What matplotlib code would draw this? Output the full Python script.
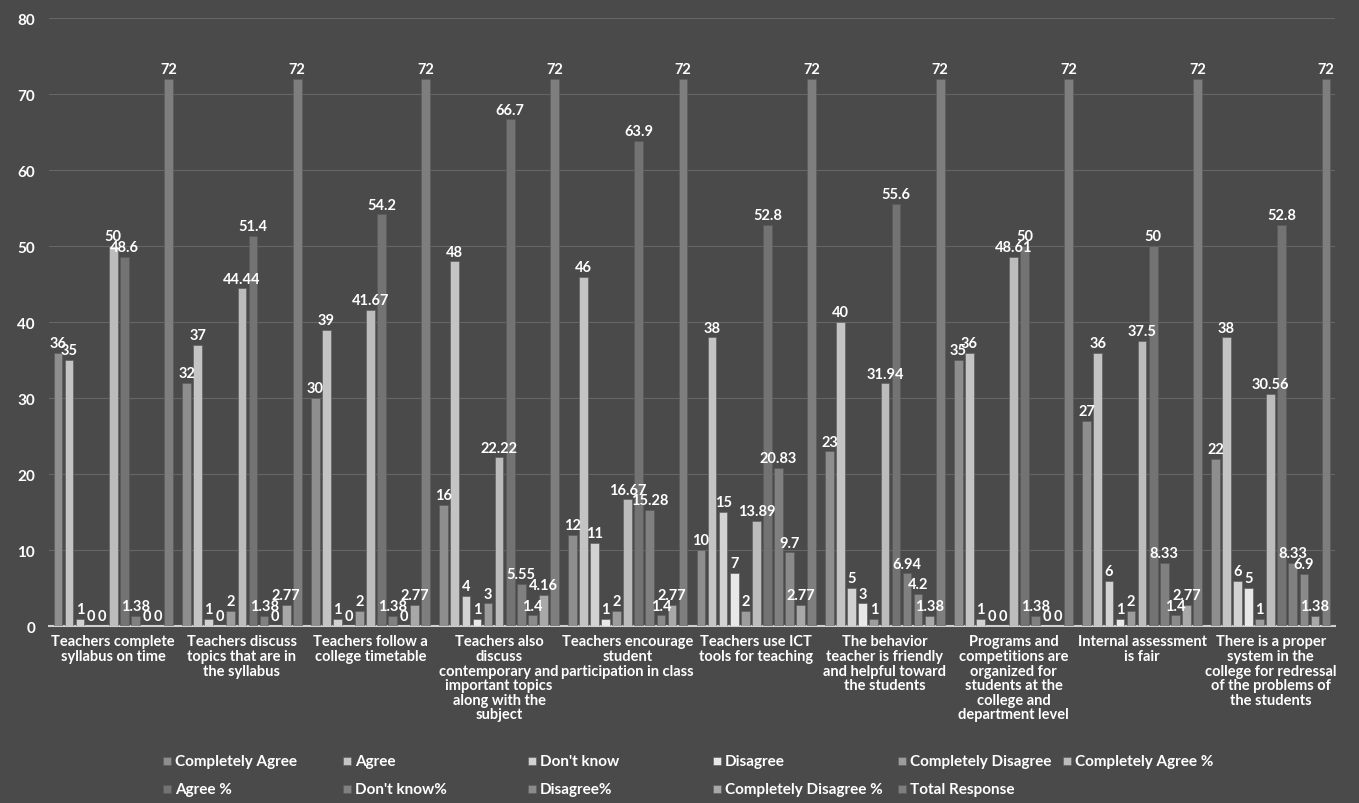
import matplotlib
matplotlib.use("Agg")
import matplotlib.pyplot as plt
from matplotlib.patches import Rectangle
import numpy as np

plt.rcParams['font.family'] = ['Lato', 'DejaVu Sans']

categories = [
    "Teachers complete\nsyllabus on time",
    "Teachers discuss\ntopics that are in\nthe syllabus",
    "Teachers follow a\ncollege timetable",
    "Teachers also\ndiscuss\ncontemporary and\nimportant topics\nalong with the\nsubject",
    "Teachers encourage\nstudent\nparticipation in class",
    "Teachers use ICT\ntools for teaching",
    "The behavior\nteacher is friendly\nand helpful toward\nthe students",
    "Programs and\ncompetitions are\norganized for\nstudents at the\ncollege and\ndepartment level",
    "Internal assessment\nis fair",
    "There is a proper\nsystem in the\ncollege for redressal\nof the problems of\nthe students",
]

completely_agree = [36, 32, 30, 16, 12, 10, 23, 35, 27, 22]
agree = [35, 37, 39, 48, 46, 38, 40, 36, 36, 38]
dont_know = [1, 1, 1, 4, 11, 15, 5, 1, 6, 6]
disagree = [0, 0, 0, 1, 1, 7, 3, 0, 1, 5]
completely_disagree = [0, 2, 2, 3, 2, 2, 1, 0, 2, 1]
completely_agree_pct = [50, 44.44, 41.67, 22.22, 16.67, 13.89, 31.94, 48.61, 37.5, 30.56]
agree_pct = [48.6, 51.4, 54.2, 66.7, 63.9, 52.8, 55.6, 50, 50, 52.8]
dont_know_pct = [1.38, 1.38, 1.38, 5.55, 15.28, 20.83, 6.94, 1.38, 8.33, 8.33]
disagree_pct = [0, 0, 0, 1.4, 1.4, 9.7, 4.2, 0, 1.4, 6.9]
completely_disagree_pct = [0, 2.77, 2.77, 4.16, 2.77, 2.77, 1.38, 0, 2.77, 1.38]
total_response = [72, 72, 72, 72, 72, 72, 72, 72, 72, 72]

series_names = ["Completely Agree", "Agree", "Don't know", "Disagree", "Completely Disagree",
                "Completely Agree %", "Agree %", "Don't know%", "Disagree%",
                "Completely Disagree %", "Total Response"]
series_values = [completely_agree, agree, dont_know, disagree, completely_disagree,
                 completely_agree_pct, agree_pct, dont_know_pct, disagree_pct,
                 completely_disagree_pct, total_response]
colors = ["#8e8e8e", "#c4c4c4", "#d2d2d2", "#e8e8e8", "#9c9c9c",
          "#bcbcbc", "#737373", "#808080", "#8a8a8a", "#a8a8a8", "#7e7e7e"]

bg = "#4a4a4a"
W, H = 1359, 804
fig = plt.figure(figsize=(W / 100, H / 100), dpi=100, facecolor=bg)
ax = fig.add_axes([49 / W, 0.22, (1335 - 49) / W, 0.756], facecolor=bg)

n = len(series_names)
x = np.arange(len(categories))
slot = 0.086
width = 0.068
offsets = (np.arange(n) - (n - 1) / 2) * slot

for i, (name, vals, c) in enumerate(zip(series_names, series_values, colors)):
    bars = ax.bar(x + offsets[i], vals, width, color=c, label=name, zorder=3,
                  edgecolor="#5a5a5a", linewidth=0.4)
    labels = [("%g" % v) for v in vals]
    ax.bar_label(bars, labels=labels, padding=2, color="white", fontsize=10.5,
                 fontweight="bold", zorder=4)

ax.set_xlim(-0.5, len(categories) - 0.5)
ax.set_ylim(0, 80)
ax.set_yticks(np.arange(0, 81, 10))
ax.tick_params(axis='y', colors="white", labelsize=11, length=0, pad=10)
for t in ax.get_yticklabels():
    t.set_fontweight("bold")
ax.set_xticks(x)
ax.set_xticklabels(categories, color="white", fontsize=10.5, fontweight="bold",
                   linespacing=1.05)
ax.tick_params(axis='x', length=0, pad=6)
ax.grid(axis='y', color="#666666", linewidth=0.8, zorder=0)
for s in ["top", "right", "left"]:
    ax.spines[s].set_visible(False)
ax.spines["bottom"].set_color("#d0d0d0")
ax.spines["bottom"].set_linewidth(1.5)

# legend laid out in fixed-width columns, row by row (as in the reference)
col_x = [163, 343, 528, 713, 898, 1063]
row_y = [762, 790]
for k, (name, c) in enumerate(zip(series_names, colors)):
    r, cidx = divmod(k, 6)
    px, py = col_x[cidx], row_y[r]
    fig.patches.append(Rectangle(((px) / W, 1 - (py + 4) / H), 8 / W, 8 / H,
                                 transform=fig.transFigure, facecolor=c,
                                 edgecolor="#5a5a5a", linewidth=0.4))
    fig.text((px + 12) / W, 1 - py / H, name, color="white", fontsize=11,
             fontweight="bold", va="center", ha="left")

fig.savefig("out.png", dpi=100, facecolor=bg)
